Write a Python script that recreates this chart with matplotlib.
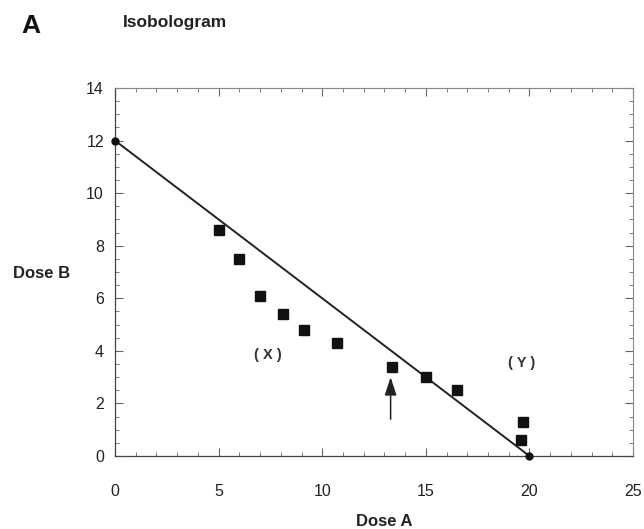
"""Isobologram of dose A vs dose B combinations."""

import matplotlib
matplotlib.use("Agg")
import matplotlib.pyplot as plt
from matplotlib.ticker import MultipleLocator

plt.rcParams["font.family"] = ["Liberation Sans", "DejaVu Sans"]

# Line of additivity between the two single-agent doses
additive_a = [0, 20]
additive_b = [12, 0]

# Measured combinations
dose_a = [5.0, 6.0, 7.0, 8.1, 9.1, 10.7, 13.35, 15.0, 16.5, 19.7, 19.6]
dose_b = [8.6, 7.5, 6.1, 5.4, 4.8, 4.3, 3.4, 3.0, 2.5, 1.3, 0.6]

# Annotated combination (arrow)
arrow_a = 13.3
arrow_from_b = 1.4
arrow_to_b = 3.0

fig = plt.figure(figsize=(6.44, 5.29), dpi=100)
ax = fig.add_axes([0.1786, 0.138, 0.8044, 0.6956])

ax.plot(additive_a, additive_b, color="#222", linewidth=1.4, zorder=2)
ax.plot(additive_a, additive_b, "o", color="#111", markersize=5,
        clip_on=False, zorder=4)
ax.plot(dose_a, dose_b, "s", color="#111", markersize=6.8, zorder=3)

ax.annotate("", xy=(arrow_a, arrow_to_b), xytext=(arrow_a, arrow_from_b),
            arrowprops=dict(arrowstyle="-|>,head_length=0.55,head_width=0.18",
                            color="#222", lw=1.1, mutation_scale=20,
                            shrinkA=0, shrinkB=0))

ax.text(7.4, 3.85, "( X )", fontsize=10.5, fontweight="bold", color="#333",
        ha="center", va="center")
ax.text(19.6, 3.55, "( Y )", fontsize=10.5, fontweight="bold", color="#333",
        ha="center", va="center")

ax.set_xlim(0, 25)
ax.set_ylim(0, 14)
ax.xaxis.set_major_locator(MultipleLocator(5))
ax.xaxis.set_minor_locator(MultipleLocator(1))
ax.yaxis.set_major_locator(MultipleLocator(2))
ax.yaxis.set_minor_locator(MultipleLocator(0.5))

ax.tick_params(which="both", direction="in", top=True, right=True,
               colors="#666", labelcolor="#222", labelsize=11.5)
ax.tick_params(axis="x", which="major", length=6, pad=20)
ax.tick_params(axis="y", which="major", length=6, pad=8)
ax.tick_params(which="minor", length=3)

for side in ["left", "bottom"]:
    ax.spines[side].set_color("#444")
    ax.spines[side].set_linewidth(0.9)
for side in ["top", "right"]:
    ax.spines[side].set_color("#888")
    ax.spines[side].set_linewidth(0.8)

fig.text(13 / 644, 1 - 273 / 529, "Dose B", fontsize=12, fontweight="bold",
         ha="left", va="center", color="#222")
fig.text(384 / 644, 1 - 521 / 529, "Dose A", fontsize=12, fontweight="bold",
         ha="center", va="center", color="#222")
fig.text(21 / 644, 1 - 26 / 529, "A", fontsize=19, fontweight="bold",
         ha="left", va="center", color="#111")
fig.text(123 / 644, 1 - 23 / 529, "Isobologram", fontsize=12.5,
         fontweight="bold", ha="left", va="center", color="#222")

fig.savefig("out.png", dpi=100)
